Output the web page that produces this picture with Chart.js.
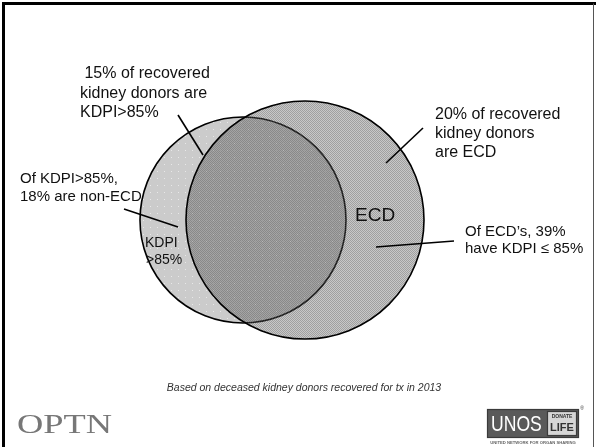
<!DOCTYPE html>
<html>
<head>
<meta charset="utf-8">
<script src="https://cdn.jsdelivr.net/npm/chart.js@4.4.0/dist/chart.umd.min.js"></script>
<style>
html,body{margin:0;padding:0;background:#fff;}
</style>
</head>
<body>
<canvas id="venn" width="596" height="447"></canvas>
<script>
// sets of the venn (index 0 is drawn on top)
// axes run 0-596 / 0-447 so one unit is one pixel and r can be given as is
var set_labels = ["ECD", "KDPI>85%"];
var set_share = [20, 15];      // % of recovered kidney donors
var set_x = [305, 243];
var set_y = [227, 227];
var set_r = [119, 103];

var callout_1 = [" 15% of recovered", "kidney donors are", "KDPI>85%"];
var callout_2 = ["20% of recovered", "kidney donors", "are ECD"];
var callout_3 = ["Of KDPI>85%,", "18% are non-ECD"];
var callout_4 = ["Of ECD\u2019s, 39%", "have KDPI \u2264 85%"];
var inner_label = ["KDPI", ">85%"];
var footnote = "Based on deceased kidney donors recovered for tx in 2013";

function text_lines(ctx, lines, x, y, step, font){
    ctx.font = font;
    ctx.fillStyle = "#111";
    ctx.textAlign = "left";
    ctx.textBaseline = "middle";
    for (var i = 0; i < lines.length; i++) {
        ctx.fillText(lines[i], x, y + i * step);
    }
}

function line(ctx, x1, y1, x2, y2){
    ctx.beginPath();
    ctx.moveTo(x1, y1);
    ctx.lineTo(x2, y2);
    ctx.stroke();
}

// fill textures like the slide (dots for KDPI, fine check for ECD)
function dot_pattern(){
    var c = document.createElement("canvas");
    c.width = 7; c.height = 7;
    var g = c.getContext("2d");
    g.fillStyle = "#cbcbcb";
    g.fillRect(0, 0, 7, 7);
    g.fillStyle = "#e8e8e8";
    g.fillRect(3, 3, 1, 1);
    return g.createPattern(c, "repeat");
}
function check_pattern(){
    var c = document.createElement("canvas");
    c.width = 2; c.height = 2;
    var g = c.getContext("2d");
    g.fillStyle = "rgba(84,84,84,0.32)";
    g.fillRect(0, 0, 2, 2);
    g.fillStyle = "rgba(84,84,84,0.345)";
    g.fillRect(0, 0, 1, 1);
    g.fillRect(1, 1, 1, 1);
    return g.createPattern(c, "repeat");
}

var slide_plugin = {
    id: "slide",
    afterDraw: function(chart){
        var ctx = chart.ctx;
        ctx.save();
        // frame
        ctx.strokeStyle = "#000";
        ctx.lineWidth = 3;
        line(ctx, 2, 3.5, 596, 3.5);
        line(ctx, 3.5, 2, 3.5, 447);
        ctx.strokeStyle = "#555";
        ctx.lineWidth = 1;
        line(ctx, 593.5, 3.5, 593.5, 447);

        // leader lines
        ctx.strokeStyle = "#000";
        ctx.lineWidth = 1.6;
        line(ctx, 178, 115, 203, 155);
        line(ctx, 423, 128, 386, 163);
        line(ctx, 124, 209, 178, 227);
        line(ctx, 454, 241, 376, 247);

        // callouts
        var f16 = "16px 'Liberation Sans', Arial, sans-serif";
        var f15 = "15px 'Liberation Sans', Arial, sans-serif";
        text_lines(ctx, callout_1, 80, 74, 19.5, f16);
        text_lines(ctx, callout_2, 435, 115, 19, f16);
        text_lines(ctx, callout_3, 20, 179, 18, f15);
        text_lines(ctx, callout_4, 465, 232, 16.5, f15);
        text_lines(ctx, [set_labels[0]], 355, 216, 0, "19px 'Liberation Sans', Arial, sans-serif");
        text_lines(ctx, [inner_label[0]], 145, 243, 0, "14px 'Liberation Sans', Arial, sans-serif");
        text_lines(ctx, [inner_label[1]], 146, 260, 0, "14px 'Liberation Sans', Arial, sans-serif");

        // footnote
        ctx.font = "italic 10.5px 'Liberation Sans', Arial, sans-serif";
        ctx.fillStyle = "#333";
        ctx.textAlign = "center";
        ctx.fillText(footnote, 304, 388);

        // OPTN
        ctx.save();
        ctx.translate(17, 426);
        ctx.scale(1.3, 1);
        ctx.font = "28px 'Liberation Serif', 'Times New Roman', serif";
        ctx.fillStyle = "#777";
        ctx.textAlign = "left";
        ctx.fillText("OPTN", 0, 0);
        ctx.restore();

        // UNOS logo
        ctx.fillStyle = "#5a5a5a";
        ctx.fillRect(487, 409, 92, 29);
        ctx.strokeStyle = "#3a3a3a";
        ctx.lineWidth = 1.2;
        ctx.strokeRect(487.5, 409.5, 91, 28);
        ctx.fillStyle = "#d6d6d6";
        ctx.fillRect(547, 411, 30, 25);
        ctx.strokeRect(547.5, 411.5, 29, 24);
        ctx.save();
        ctx.translate(491, 424);
        ctx.scale(0.8, 1);
        ctx.font = "22px 'Liberation Sans', Arial, sans-serif";
        ctx.fillStyle = "#fff";
        ctx.textAlign = "left";
        ctx.fillText("UNOS", 0, 1);
        ctx.restore();
        ctx.fillStyle = "#333";
        ctx.textAlign = "center";
        ctx.font = "bold 5px 'Liberation Sans', Arial, sans-serif";
        ctx.fillText("DONATE", 562, 417);
        ctx.font = "bold 11px 'Liberation Sans', Arial, sans-serif";
        ctx.fillText("LIFE", 562, 428);
        ctx.font = "5px 'Liberation Sans', Arial, sans-serif";
        ctx.fillText("\u00ae", 582, 409);
        ctx.font = "bold 4.2px 'Liberation Sans', Arial, sans-serif";
        ctx.fillStyle = "#666";
        ctx.fillText("UNITED NETWORK FOR ORGAN SHARING", 533, 443);
        ctx.restore();
    }
};

var venn = document.getElementById("venn").getContext("2d");
var bieudo_venn = new Chart(venn, {
    type: "bubble",
    data: {
        labels: set_labels,
        datasets: [
            {
                label: set_labels[0] + " (" + set_share[0] + "%)",
                data: [{x: set_x[0], y: set_y[0], r: set_r[0]}],
                backgroundColor: check_pattern(),
                borderColor: "#000",
                borderWidth: 1.6,
                clip: false
            },
            {
                label: set_labels[1] + " (" + set_share[1] + "%)",
                data: [{x: set_x[1], y: set_y[1], r: set_r[1]}],
                backgroundColor: dot_pattern(),
                borderColor: "#000",
                borderWidth: 1.6,
                clip: false
            }
        ]
    },
    options: {
        responsive: false,
        animation: false,
        events: [],
        layout: {padding: 0, autoPadding: false},
        scales: {
            x: {type: "linear", min: 0, max: 596, display: false},
            y: {type: "linear", min: 0, max: 447, display: false}
        },
        plugins: {
            legend: {display: false},
            tooltip: {enabled: false}
        }
    },
    plugins: [slide_plugin]
});
</script>
</body>
</html>
